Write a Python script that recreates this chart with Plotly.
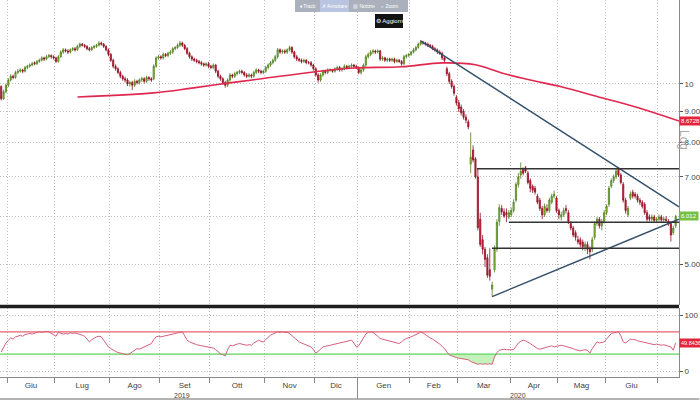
import math
import plotly.graph_objects as go

# ---------------- data ----------------
open_ = [
    9.90, 9.45, 9.70, 9.95, 10.15, 10.30, 10.25, 10.45, 10.50, 10.55,
    10.50, 10.65, 10.70, 10.75, 10.85, 10.80, 10.90, 10.95, 11.05, 11.00,
    11.10, 11.15, 11.10, 11.05, 10.90, 11.10, 11.30, 11.40, 11.35, 11.30,
    11.40, 11.45, 11.40, 11.55, 11.65, 11.60, 11.55, 11.45, 11.40, 11.50,
    11.55, 11.60, 11.70, 11.65, 11.55, 11.40, 11.20, 10.95, 10.70, 10.60,
    10.45, 10.30, 10.20, 10.15, 10.00, 10.05, 9.95, 10.10, 10.05, 10.15,
    10.20, 10.10, 10.25, 10.20, 10.20, 10.70, 11.05, 11.10, 11.05, 11.20,
    11.15, 11.25, 11.30, 11.45, 11.50, 11.60, 11.70, 11.60, 11.45, 11.25,
    11.10, 11.00, 10.95, 10.90, 10.85, 10.80, 10.75, 10.80, 10.70, 10.65,
    10.75, 10.50, 10.30, 10.20, 10.05, 9.95, 10.15, 10.35, 10.30, 10.40,
    10.45, 10.50, 10.45, 10.35, 10.30, 10.35, 10.30, 10.45, 10.55, 10.50,
    10.45, 10.50, 10.65, 10.75, 10.85, 10.95, 11.10, 11.40, 11.30, 11.35,
    11.30, 11.40, 11.50, 11.30, 11.10, 11.00, 10.95, 10.90, 10.95, 10.85,
    10.85, 10.75, 10.60, 10.35, 10.15, 10.35, 10.50, 10.45, 10.55, 10.55,
    10.50, 10.60, 10.65, 10.55, 10.60, 10.70, 10.65, 10.70, 10.75, 10.70,
    10.65, 10.45, 10.55, 10.75, 11.10, 11.20, 11.30, 11.35, 11.30, 11.35,
    11.00, 11.05, 10.95, 11.00, 10.95, 11.00, 10.90, 10.95, 10.90, 10.80,
    11.10, 11.15, 11.20, 11.30, 11.40, 11.50, 11.65, 11.75, 11.70, 11.65,
    11.60, 11.55, 11.45, 11.40, 11.30, 11.25, 11.05, 10.60, 10.40, 10.10,
    9.90, 9.50, 9.30, 9.15, 9.00, 8.80, 8.65, 7.35, 7.76, 7.50,
    7.00, 5.95, 5.50, 5.30, 5.13, 4.90, 4.55, 4.90, 5.30, 5.90,
    6.20, 6.12, 6.10, 6.00, 6.05, 6.15, 6.40, 6.80, 7.05, 7.20,
    7.25, 7.10, 6.90, 6.75, 6.70, 6.50, 6.40, 6.20, 6.05, 6.20,
    6.15, 6.35, 6.50, 6.45, 6.15, 6.00, 6.05, 6.20, 6.10, 5.85,
    5.75, 5.65, 5.50, 5.50, 5.45, 5.35, 5.40, 5.30, 5.30, 5.55,
    5.85, 5.95, 5.80, 5.90, 6.10, 6.30, 6.75, 6.90, 7.00, 7.20,
    7.05, 6.80, 6.40, 6.05, 6.45, 6.60, 6.55, 6.50, 6.40, 6.35,
    6.30, 6.10, 6.00, 5.95, 6.00, 5.92, 5.95, 6.00, 5.93, 5.95,
    5.90, 5.85, 5.65, 5.80,
]
high = [
    9.95, 9.78, 10.02, 10.22, 10.38, 10.36, 10.52, 10.58, 10.62, 10.60,
    10.72, 10.76, 10.82, 10.88, 10.90, 10.96, 11.02, 11.12, 11.10, 11.18,
    11.22, 11.20, 11.16, 11.10, 11.18, 11.38, 11.48, 11.46, 11.42, 11.46,
    11.52, 11.52, 11.62, 11.72, 11.70, 11.66, 11.60, 11.52, 11.56, 11.62,
    11.66, 11.78, 11.76, 11.70, 11.60, 11.46, 11.26, 11.02, 10.78, 10.66,
    10.52, 10.36, 10.28, 10.22, 10.12, 10.12, 10.18, 10.16, 10.22, 10.28,
    10.26, 10.32, 10.30, 10.26, 10.78, 11.12, 11.18, 11.16, 11.28, 11.26,
    11.32, 11.38, 11.52, 11.56, 11.68, 11.80, 11.76, 11.66, 11.52, 11.32,
    11.16, 11.06, 11.02, 10.96, 10.92, 10.86, 10.86, 10.88, 10.76, 10.82,
    10.80, 10.56, 10.36, 10.26, 10.12, 10.22, 10.42, 10.40, 10.48, 10.52,
    10.56, 10.56, 10.50, 10.42, 10.42, 10.40, 10.52, 10.62, 10.60, 10.56,
    10.56, 10.72, 10.82, 10.92, 11.02, 11.18, 11.48, 11.46, 11.42, 11.42,
    11.46, 11.58, 11.56, 11.36, 11.18, 11.06, 11.02, 11.02, 11.00, 10.92,
    10.92, 10.80, 10.66, 10.42, 10.42, 10.56, 10.56, 10.62, 10.62, 10.60,
    10.66, 10.72, 10.72, 10.66, 10.78, 10.76, 10.76, 10.82, 10.80, 10.76,
    10.70, 10.62, 10.82, 11.18, 11.28, 11.38, 11.42, 11.40, 11.42, 11.40,
    11.12, 11.10, 11.06, 11.06, 11.06, 11.06, 11.02, 11.00, 10.96, 11.18,
    11.22, 11.26, 11.36, 11.48, 11.58, 11.72, 11.84, 11.80, 11.76, 11.72,
    11.66, 11.62, 11.52, 11.46, 11.38, 11.32, 11.12, 10.68, 10.48, 10.18,
    9.98, 9.58, 9.40, 9.24, 9.08, 8.90, 8.72, 8.30, 7.90, 7.55,
    7.22, 6.10, 5.60, 5.35, 5.20, 5.32, 4.68, 5.38, 5.95, 6.30,
    6.28, 6.20, 6.20, 6.16, 6.22, 6.42, 6.86, 7.10, 7.40, 7.26,
    7.30, 7.16, 6.96, 6.80, 6.76, 6.56, 6.46, 6.26, 6.32, 6.30,
    6.46, 6.56, 6.64, 6.50, 6.20, 6.12, 6.22, 6.28, 6.16, 5.90,
    5.80, 5.70, 5.58, 5.55, 5.50, 5.46, 5.46, 5.36, 5.56, 5.90,
    6.00, 6.00, 5.96, 6.16, 6.30, 6.76, 6.96, 7.06, 7.22, 7.26,
    7.10, 6.86, 6.46, 6.26, 6.62, 6.66, 6.60, 6.56, 6.46, 6.40,
    6.35, 6.16, 6.06, 6.06, 6.05, 6.00, 6.06, 6.05, 6.00, 6.02,
    5.95, 5.90, 5.80, 6.05,
]
low = [
    9.38, 9.40, 9.65, 9.88, 10.10, 10.18, 10.20, 10.38, 10.44, 10.42,
    10.45, 10.58, 10.64, 10.70, 10.74, 10.75, 10.84, 10.90, 10.92, 10.95,
    11.04, 11.02, 10.98, 10.84, 10.85, 11.05, 11.22, 11.28, 11.22, 11.24,
    11.34, 11.33, 11.35, 11.48, 11.54, 11.48, 11.38, 11.33, 11.35, 11.44,
    11.48, 11.55, 11.58, 11.48, 11.33, 11.12, 10.88, 10.62, 10.52, 10.38,
    10.22, 10.12, 10.06, 9.92, 9.90, 9.77, 9.88, 9.98, 9.98, 10.08,
    10.02, 10.04, 10.12, 10.08, 10.14, 10.64, 10.98, 10.98, 10.98, 11.08,
    11.08, 11.18, 11.22, 11.38, 11.44, 11.52, 11.52, 11.38, 11.18, 11.02,
    10.92, 10.88, 10.82, 10.78, 10.72, 10.68, 10.68, 10.62, 10.58, 10.58,
    10.42, 10.22, 10.12, 9.98, 9.86, 9.88, 10.08, 10.22, 10.24, 10.33,
    10.38, 10.38, 10.28, 10.22, 10.24, 10.22, 10.24, 10.38, 10.42, 10.38,
    10.38, 10.44, 10.58, 10.68, 10.78, 10.88, 11.02, 11.22, 11.22, 11.22,
    11.22, 11.33, 11.22, 11.02, 10.92, 10.88, 10.82, 10.84, 10.78, 10.78,
    10.68, 10.52, 10.28, 10.05, 10.08, 10.28, 10.38, 10.38, 10.48, 10.44,
    10.44, 10.52, 10.48, 10.48, 10.54, 10.58, 10.58, 10.62, 10.62, 10.58,
    10.38, 10.36, 10.48, 10.68, 11.02, 11.12, 11.22, 11.22, 11.24, 10.92,
    10.92, 10.88, 10.88, 10.88, 10.88, 10.82, 10.84, 10.84, 10.72, 10.74,
    11.02, 11.08, 11.14, 11.24, 11.33, 11.44, 11.58, 11.62, 11.58, 11.52,
    11.48, 11.38, 11.32, 11.22, 11.18, 10.96, 10.86, 10.30, 10.00, 9.82,
    9.56, 9.20, 8.98, 8.86, 8.72, 8.60, 8.40, 7.10, 7.40, 6.95,
    5.70, 5.35, 5.20, 4.95, 4.75, 4.70, 4.42, 4.85, 5.25, 5.80,
    6.05, 5.98, 5.88, 5.95, 6.00, 6.10, 6.35, 6.72, 6.95, 7.04,
    7.10, 6.80, 6.60, 6.58, 6.54, 6.30, 6.14, 5.95, 6.00, 6.10,
    6.10, 6.30, 6.44, 6.10, 5.95, 5.92, 6.00, 6.08, 5.84, 5.70,
    5.55, 5.48, 5.40, 5.34, 5.28, 5.26, 5.20, 5.10, 5.24, 5.50,
    5.80, 5.74, 5.70, 5.85, 6.04, 6.24, 6.70, 6.84, 6.94, 7.00,
    6.80, 6.34, 6.08, 6.00, 6.40, 6.44, 6.44, 6.34, 6.28, 6.20,
    6.05, 5.90, 5.90, 5.90, 5.88, 5.86, 5.90, 5.88, 5.88, 5.87,
    5.80, 5.46, 5.60, 5.75,
]
close = [
    9.45, 9.70, 9.95, 10.15, 10.30, 10.25, 10.45, 10.50, 10.55, 10.50,
    10.65, 10.70, 10.75, 10.80, 10.80, 10.90, 10.95, 11.05, 11.00, 11.10,
    11.15, 11.10, 11.05, 10.90, 11.10, 11.30, 11.40, 11.35, 11.30, 11.40,
    11.45, 11.40, 11.55, 11.65, 11.60, 11.55, 11.45, 11.40, 11.50, 11.55,
    11.60, 11.70, 11.65, 11.55, 11.40, 11.20, 10.95, 10.70, 10.60, 10.45,
    10.30, 10.20, 10.15, 10.00, 10.05, 9.95, 10.10, 10.05, 10.15, 10.20,
    10.10, 10.25, 10.20, 10.15, 10.70, 11.05, 11.10, 11.05, 11.20, 11.15,
    11.25, 11.30, 11.45, 11.50, 11.60, 11.70, 11.60, 11.45, 11.25, 11.10,
    11.00, 10.95, 10.90, 10.85, 10.80, 10.75, 10.80, 10.70, 10.65, 10.75,
    10.50, 10.30, 10.20, 10.05, 9.95, 10.15, 10.35, 10.30, 10.40, 10.45,
    10.50, 10.45, 10.35, 10.30, 10.35, 10.30, 10.45, 10.55, 10.50, 10.45,
    10.50, 10.65, 10.75, 10.85, 10.95, 11.10, 11.40, 11.30, 11.35, 11.30,
    11.40, 11.50, 11.30, 11.10, 11.00, 10.95, 10.90, 10.95, 10.85, 10.85,
    10.75, 10.60, 10.35, 10.15, 10.35, 10.50, 10.45, 10.55, 10.55, 10.50,
    10.60, 10.65, 10.55, 10.60, 10.70, 10.65, 10.70, 10.75, 10.70, 10.65,
    10.45, 10.55, 10.75, 11.10, 11.20, 11.30, 11.35, 11.30, 11.35, 11.00,
    11.05, 10.95, 11.00, 10.95, 11.00, 10.90, 10.95, 10.90, 10.80, 11.10,
    11.15, 11.20, 11.30, 11.40, 11.50, 11.65, 11.75, 11.70, 11.65, 11.60,
    11.55, 11.45, 11.40, 11.30, 11.25, 11.05, 10.95, 10.40, 10.10, 9.90,
    9.65, 9.30, 9.10, 8.95, 8.80, 8.70, 8.48, 7.55, 7.47, 7.00,
    5.76, 5.40, 5.30, 5.10, 4.80, 4.78, 4.62, 5.30, 5.88, 6.22,
    6.12, 6.02, 6.05, 6.10, 6.15, 6.35, 6.80, 7.00, 7.15, 7.10,
    7.15, 6.85, 6.70, 6.65, 6.60, 6.35, 6.20, 6.05, 6.25, 6.15,
    6.40, 6.50, 6.55, 6.15, 6.05, 6.05, 6.15, 6.15, 5.90, 5.75,
    5.60, 5.55, 5.45, 5.40, 5.35, 5.40, 5.30, 5.25, 5.50, 5.85,
    5.95, 5.80, 5.90, 6.10, 6.25, 6.70, 6.90, 7.00, 7.15, 7.05,
    6.85, 6.40, 6.15, 6.20, 6.55, 6.50, 6.50, 6.40, 6.35, 6.25,
    6.10, 5.95, 5.95, 6.00, 5.92, 5.95, 6.00, 5.93, 5.95, 5.92,
    5.85, 5.60, 5.75, 6.012,
]
rsi = [
    34, 43, 50, 55, 59, 57, 61, 62, 64, 62,
    65, 66, 67, 66, 68, 69, 70, 69, 70, 71,
    70, 67, 64, 62, 69, 68, 66, 67, 66, 68,
    67, 68, 67, 65, 64, 62, 57, 52, 56, 59,
    61, 62, 61, 55, 49, 43, 40, 37, 35, 33,
    32, 31, 30, 29, 31, 34, 37, 40, 39, 41,
    43, 45, 47, 49, 56, 61, 62, 61, 62, 63,
    64, 65, 67, 68, 69, 70, 70, 63, 55, 52,
    50, 49, 47, 46, 45, 44, 43, 43, 42, 41,
    38, 34, 31, 29, 27, 38, 46, 45, 47, 48,
    49, 48, 47, 46, 47, 46, 50, 53, 55, 53,
    52, 56, 60, 64, 66, 68, 70, 69, 70, 69,
    69, 67, 63, 59, 55, 52, 50, 48, 46, 45,
    43, 38, 32, 35, 40, 43, 44, 45, 46, 46,
    47, 48, 49, 51, 52, 53, 54, 55, 50, 43,
    45, 52, 60, 66, 69, 70, 69, 66, 62, 58,
    57, 56, 55, 54, 52, 51, 50, 49, 52, 56,
    58, 59, 61, 63, 65, 67, 69, 68, 65, 61,
    59, 57, 54, 52, 48, 44, 40, 34, 29, 27,
    25, 24, 23, 22, 22, 21, 20, 17, 15, 14,
    12, 13, 12, 13, 12, 13, 12, 25, 33, 37,
    38, 39, 38, 38, 39, 38, 44, 50, 53, 55,
    54, 52, 49, 46, 43, 40, 39, 40, 42, 43,
    44, 45, 43, 44, 45, 46, 45, 44, 43, 42,
    40, 38, 37, 36, 37, 38, 37, 32, 40, 46,
    52, 50, 51, 52, 57, 63, 67, 68, 69, 70,
    63, 52, 50, 54, 57, 56, 56, 54, 53, 51,
    50, 49, 48, 47, 47, 48, 47, 46, 47, 46,
    45, 43, 37, 49.84,
]
# 200-day moving average, read at sample sessions
ma_session = [32, 64, 80, 95, 110, 131, 148, 168, 185, 199, 210, 222, 235, 252, 260, 273, 284.4]
ma_value = [9.51, 9.66, 9.84, 10.03, 10.21, 10.47, 10.63, 10.68, 10.84, 10.76,
            10.43, 10.15, 9.89, 9.48, 9.30, 8.98, 8.6728]

# first trading session of each month (session index)
month_first_session = [3, 23, 46, 67, 88, 111, 132, 150, 172, 192, 214, 234, 254, 276]
month_labels = ["Giu", "Lug", "Ago", "Set", "Ott", "Nov", "Dic",
                "Gen", "Feb", "Mar", "Apr", "Mag", "Giu"]
year_labels = ["2019", "2020"]

price_ticks = [5, 6, 7, 8, 9, 10]
price_tick_text = ["5.00", "", "7.00", "8.00", "9.00", "10"]

# drawn lines: (session, price)
trend_down = [(176, 11.80), (284.4, 6.24)]
trend_up = [(206, 4.42), (284.4, 5.95)]
level_price = [7.22, 5.88, 5.32]
level_start = [199.6, 213.0, 205.9]

last_price_text = "6.012"
last_ma_text = "8.6728"
last_rsi_text = "49.8436"
rsi_upper, rsi_lower = 70, 30

# ---------------- figure ----------------
sessions = list(range(len(close)))
x_end = 284.4
high = [max(h, o, c) for h, o, c in zip(high, open_, close)]
low = [min(l, o, c) for l, o, c in zip(low, open_, close)]

FONT = "Liberation Sans Narrow, Liberation Sans, Arial, sans-serif"
GRID = "#bdbdbd"
GDASH = "1px,2px"

fig = go.Figure()

fig.add_trace(go.Scatter(x=ma_session, y=ma_value, mode="lines", line_shape="spline",
                         line=dict(color="#e0284f", width=1.6), hoverinfo="skip",
                         showlegend=False, xaxis="x", yaxis="y"))

fig.add_trace(go.Candlestick(
    x=sessions, open=open_, high=high, low=low, close=close,
    increasing=dict(line=dict(color="#4f7d1e", width=0.8), fillcolor="#9bcb3c"),
    decreasing=dict(line=dict(color="#8e0e22", width=0.8), fillcolor="#e21f3d"),
    whiskerwidth=0, showlegend=False, hoverinfo="skip", xaxis="x", yaxis="y"))

for pts in (trend_down, trend_up):
    fig.add_trace(go.Scatter(x=[p[0] for p in pts], y=[p[1] for p in pts], mode="lines",
                             line=dict(color="#34506b", width=1.5), hoverinfo="skip",
                             showlegend=False, xaxis="x", yaxis="y"))
for lv, st in zip(level_price, level_start):
    fig.add_trace(go.Scatter(x=[st, x_end], y=[lv, lv], mode="lines",
                             line=dict(color="#333333", width=1.5), hoverinfo="skip",
                             showlegend=False, xaxis="x", yaxis="y"))

# RSI pane
fig.add_trace(go.Scatter(x=sessions, y=[rsi_lower] * len(rsi), mode="lines",
                         line=dict(width=0, color="rgba(0,0,0,0)"), hoverinfo="skip",
                         showlegend=False, xaxis="x2", yaxis="y2"))
fig.add_trace(go.Scatter(x=sessions, y=[min(v, rsi_lower) for v in rsi], mode="lines",
                         line=dict(width=0, color="rgba(0,0,0,0)"), fill="tonexty",
                         fillcolor="#c4f2bc", hoverinfo="skip", showlegend=False,
                         xaxis="x2", yaxis="y2"))
for lv, col in ((rsi_upper, "#e8606c"), (rsi_lower, "#5fd35f")):
    fig.add_trace(go.Scatter(x=[-0.5, x_end], y=[lv, lv], mode="lines",
                             line=dict(color=col, width=1.2), hoverinfo="skip",
                             showlegend=False, xaxis="x2", yaxis="y2"))
fig.add_trace(go.Scatter(x=sessions, y=rsi, mode="lines",
                         line=dict(color="#d4607c", width=1), hoverinfo="skip",
                         showlegend=False, xaxis="x2", yaxis="y2"))

bounds = [s - 0.5 for s in month_first_session]
label_pos = [(a + b) / 2 for a, b in zip(bounds[:-1], bounds[1:])]

H = 377.0  # plot-area height in px
def py(p):  # pixel row -> paper y
    return (H - p) / H
W = 679.0
def px(p):
    return p / W

price_dom = [py(305), 1]
rsi_dom = [0, py(308)]

axis_font = dict(family=FONT, size=8, color="#444")
fig.update_layout(
    width=700, height=400, margin=dict(l=0, r=21, t=0, b=23),
    paper_bgcolor="white", plot_bgcolor="white", showlegend=False,
    font=dict(family=FONT, size=8, color="#444"),
    xaxis=dict(domain=[0, 1], range=[-0.5, x_end], anchor="y", showticklabels=False,
               showgrid=False, zeroline=False, ticks="", rangeslider=dict(visible=False),
               minor=dict(tickmode="array", tickvals=bounds, showgrid=True,
                          gridcolor=GRID, griddash=GDASH, gridwidth=1, ticks="")),
    xaxis2=dict(domain=[0, 1], range=[-0.5, x_end], anchor="y2", matches="x",
                tickmode="array", tickvals=label_pos, ticktext=month_labels, ticks="",
                showgrid=False, zeroline=False, tickfont=axis_font,
                showline=True, linecolor="#8a8a8a", linewidth=1,
                rangeslider=dict(visible=False),
                minor=dict(tickmode="array", tickvals=bounds, showgrid=True,
                           gridcolor=GRID, griddash=GDASH, gridwidth=1,
                           ticks="outside", ticklen=5, tickcolor="#8a8a8a")),
    yaxis=dict(domain=price_dom, type="log",
               range=[math.log10(4.28), math.log10(13.8)], side="right", anchor="x",
               tickmode="array", tickvals=price_ticks, ticktext=price_tick_text,
               showgrid=True, gridcolor=GRID, griddash=GDASH, zeroline=False,
               ticks="outside", ticklen=3, tickcolor="#555", tickfont=axis_font,
               showline=True, linecolor="#8a8a8a", linewidth=1),
    yaxis2=dict(domain=rsi_dom, range=[-10.7, 112.5], side="right", anchor="x2",
                tickmode="array", tickvals=[0, 100], ticktext=["0", "100"],
                showgrid=True, gridcolor=GRID, griddash=GDASH, zeroline=False,
                ticks="outside", ticklen=3, tickcolor="#555", tickfont=axis_font,
                showline=True, linecolor="#8a8a8a", linewidth=1),
)

shapes = [
    # pane separator
    dict(type="line", xref="paper", yref="paper", x0=0, x1=1, y0=py(306.5), y1=py(306.5),
         line=dict(color="#1e1e1e", width=3.5)),
    # year separator
    dict(type="line", xref="x2", yref="paper", x0=bounds[7], x1=bounds[7], y0=0, y1=py(399),
         line=dict(color="#8a8a8a", width=1)),
    dict(type="line", xref="paper", yref="paper", x0=0, x1=1.03, y0=py(399), y1=py(399),
         line=dict(color="#9a9a9a", width=1.5)),
    # toolbar
    dict(type="rect", xref="paper", yref="paper", x0=px(295), x1=px(408), y0=py(12), y1=py(0),
         fillcolor="#aab0bc", line=dict(width=0), layer="above"),
    dict(type="rect", xref="paper", yref="paper", x0=px(320), x1=px(349), y0=py(12), y1=py(0),
         fillcolor="#b9c5e0", line=dict(width=0), layer="above"),
    dict(type="rect", xref="paper", yref="paper", x0=px(375), x1=px(403), y0=py(28), y1=py(14),
         fillcolor="#141414", line=dict(width=0), layer="above"),
]
fig.update_layout(shapes=shapes)

ann = []
for txt, xpos in zip(year_labels, [(bounds[0] - 2.5 + bounds[7]) / 2 + 1, (bounds[7] + x_end) / 2]):
    ann.append(dict(text=txt, x=xpos, xref="x2", y=py(395), yref="paper", yanchor="middle",
                    showarrow=False, font=dict(family=FONT, size=7, color="#444")))
tool_items = [("⬧ Track", 308), ("✗ Annotare", 334.5), ("▥ Notizie", 363.5), ("⌕ Zoom", 390)]
for txt, xp in tool_items:
    ann.append(dict(text=txt, x=px(xp), xref="paper", y=py(6), yref="paper", yanchor="middle",
                    showarrow=False, font=dict(family=FONT, size=5, color="white")))
ann.append(dict(text="⚙ Aggiorn", x=px(389), xref="paper", y=py(21), yref="paper",
                yanchor="middle", showarrow=False, font=dict(family=FONT, size=6, color="white")))
ann.append(dict(text="Log", x=px(693), xref="paper", y=py(140), yref="paper", showarrow=False,
                textangle=90, font=dict(family="Liberation Sans, Arial", size=12, color="#a8a8a8")))
ann.append(dict(text=last_ma_text, x=1, xref="paper", xanchor="left", y=math.log10(ma_value[-1]),
                yref="y", showarrow=False, bgcolor="#e2243c", borderpad=1,
                font=dict(family=FONT, size=6, color="white")))
ann.append(dict(text=last_price_text, x=1, xref="paper", xanchor="left", y=math.log10(close[-1]),
                yref="y", showarrow=False, bgcolor="#78c043", borderpad=1,
                font=dict(family=FONT, size=6, color="white")))
ann.append(dict(text=last_rsi_text, x=1, xref="paper", xanchor="left", y=rsi[-1],
                yref="y2", showarrow=False, bgcolor="#e2243c", borderpad=1,
                font=dict(family=FONT, size=5.5, color="white")))
fig.update_layout(annotations=ann)

fig.write_html("out.html", config={"displayModeBar": False},
               post_script="document.body.style.margin='0';")
